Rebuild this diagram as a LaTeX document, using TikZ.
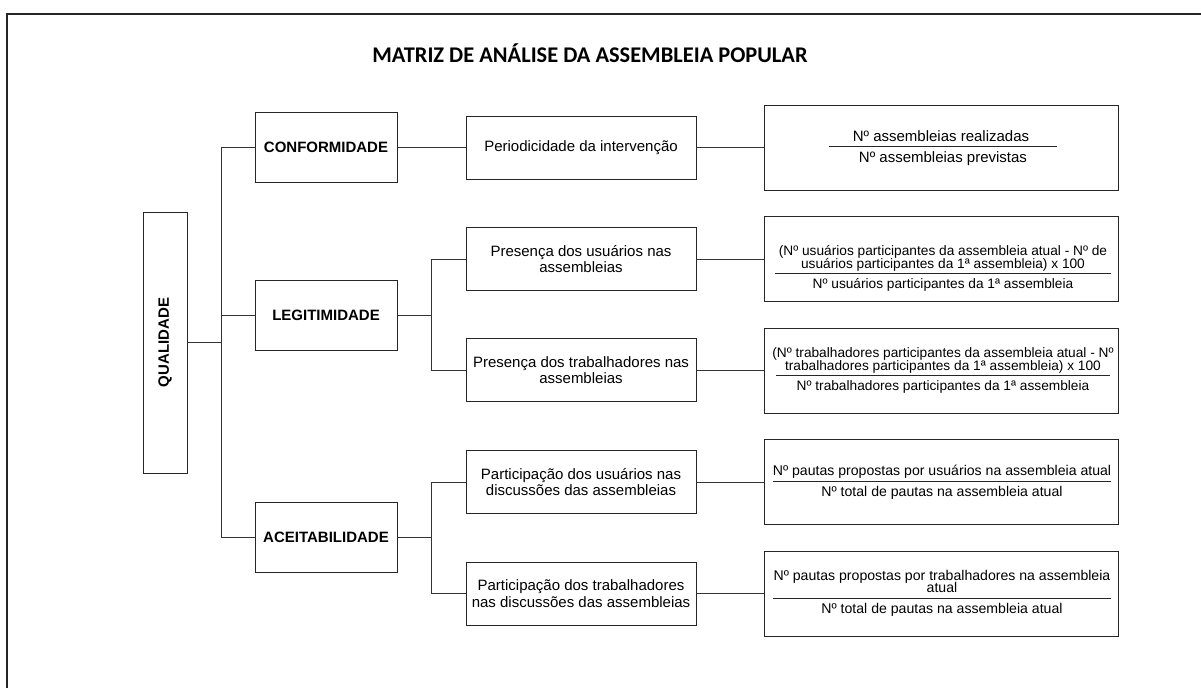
\documentclass[tikz,border=0pt]{standalone}
\usepackage{fontspec}
\setmainfont{Liberation Sans}
\newfontfamily\titlefont{Carlito}
\begin{document}
\begin{tikzpicture}[x=1pt,y=-1pt,
  box/.style={draw=black!85,line width=0.9pt,inner sep=0pt,anchor=center},
  cat/.style={box,minimum width=142pt,minimum height=70pt,font=\fontsize{15}{17}\selectfont\bfseries},
  mid/.style={box,minimum width=230pt,minimum height=63pt,align=center,font=\fontsize{15}{16.5}\selectfont},
  fbox/.style={box,minimum width=354pt,minimum height=85pt},
  ftxt/.style={inner sep=0pt,anchor=base,font=\fontsize{13.7}{12.5}\selectfont},
  fbig/.style={ftxt,font=\fontsize{15}{16}\selectfont},
  fmed/.style={ftxt,font=\fontsize{14.1}{12.5}\selectfont},
  conn/.style={draw=black!80,line width=0.9pt},
  frac/.style={draw=black!85,line width=0.9pt},
]
\useasboundingbox (0,0) rectangle (1201,688);
% outer frame
\draw[line width=1.2pt,black!85] (7,688) -- (7,14) -- (1201,14);
% title
\node[inner sep=0pt,anchor=base,font=\titlefont\bfseries\fontsize{22.4}{26}\selectfont] (title) at (590,62) {MATRIZ DE ANÁLISE DA ASSEMBLEIA POPULAR};

% root
\node[box,rotate=90,minimum width=261pt,minimum height=44pt,font=\fontsize{15}{17}\selectfont\bfseries] (Q) at (165,342.5) {QUALIDADE};

% categories
\node[cat] (C) at (326,147.5) {CONFORMIDADE};
\node[cat] (L) at (326,315) {LEGITIMIDADE};
\node[cat] (A) at (326,537.5) {ACEITABILIDADE};

% middle boxes
\node[mid] (P1) at (581,147.5) {Periodicidade da intervenção};
\node[mid] (P2) at (581,259) {Presença dos usuários nas\\assembleias};
\node[mid] (P3) at (581,370) {Presença dos trabalhadores nas\\assembleias};
\node[mid] (P4) at (581,482) {Participação dos usuários nas\\discussões das assembleias};
\node[mid] (P5) at (581,593.5) {Participação dos trabalhadores\\nas discussões das assembleias};

% formula boxes
\node[fbox] (F1) at (941,147.5) {};
\node[fbox] (F2) at (941,258.5) {};
\node[fbox] (F3) at (941,370.5) {};
\node[fbox] (F4) at (941,481.5) {};
\node[fbox] (F5) at (941,593.5) {};

% formula 1
\node[fbig] (f1n) at (941,141.7) {Nº assembleias realizadas};
\node[fbig] (f1d) at (943,162.7) {Nº assembleias previstas};
\coordinate (r1a) at (829,146.7); \coordinate (r1b) at (1057,146.7);
\draw[frac] (r1a) -- (r1b);
% formula 2
\node[ftxt] (f2a) at (943,255.8) {(Nº usuários participantes da assembleia atual - Nº de};
\node[ftxt] (f2b) at (943,268.3) {usuários participantes da 1ª assembleia) x 100};
\node[ftxt] (f2d) at (943,288.8) {Nº usuários participantes da 1ª assembleia};
\coordinate (r2a) at (775,273.3); \coordinate (r2b) at (1111,273.3);
\draw[frac] (r2a) -- (r2b);
% formula 3
\node[ftxt] (f3a) at (943,357.8) {(Nº trabalhadores participantes da assembleia atual - Nº};
\node[ftxt] (f3b) at (943,370.3) {trabalhadores participantes da 1ª assembleia) x 100};
\node[ftxt] (f3d) at (943,390.8) {Nº trabalhadores participantes da 1ª assembleia};
\coordinate (r3a) at (776,375.3); \coordinate (r3b) at (1110,375.3);
\draw[frac] (r3a) -- (r3b);
% formula 4
\node[fmed] (f4n) at (942,475.5) {Nº pautas propostas por usuários na assembleia atual};
\node[fmed] (f4d) at (942,496.5) {Nº total de pautas na assembleia atual};
\coordinate (r4a) at (773,481); \coordinate (r4b) at (1111,481);
\draw[frac] (r4a) -- (r4b);
% formula 5
\node[fmed] (f5a) at (942,580.3) {Nº pautas propostas por trabalhadores na assembleia};
\node[fmed] (f5b) at (942,592.8) {atual};
\node[fmed] (f5d) at (942,613.8) {Nº total de pautas na assembleia atual};
\coordinate (r5a) at (773,598.3); \coordinate (r5b) at (1111,598.3);
\draw[frac] (r5a) -- (r5b);

% connectors
\coordinate (T) at (221,0);
\coordinate (B1) at (431,0);
\draw[conn] (Q.south) -- (Q.south -| T);
\draw[conn] (C.west) -- (C.west -| T) -- (A.west -| T) -- (A.west);
\draw[conn] (L.west) -- (L.west -| T);
\draw[conn] (C.east) -- (P1.west);
\draw[conn] (L.east) -- (L.east -| B1);
\draw[conn] (P2.west) -- (P2.west -| B1) -- (P3.west -| B1) -- (P3.west);
\draw[conn] (A.east) -- (A.east -| B1);
\draw[conn] (P4.west) -- (P4.west -| B1) -- (P5.west -| B1) -- (P5.west);
\draw[conn] (P1.east) -- (P1.east -| F1.west);
\draw[conn] (P2.east) -- (P2.east -| F2.west);
\draw[conn] (P3.east) -- (P3.east -| F3.west);
\draw[conn] (P4.east) -- (P4.east -| F4.west);
\draw[conn] (P5.east) -- (P5.east -| F5.west);
\end{tikzpicture}
\end{document}
